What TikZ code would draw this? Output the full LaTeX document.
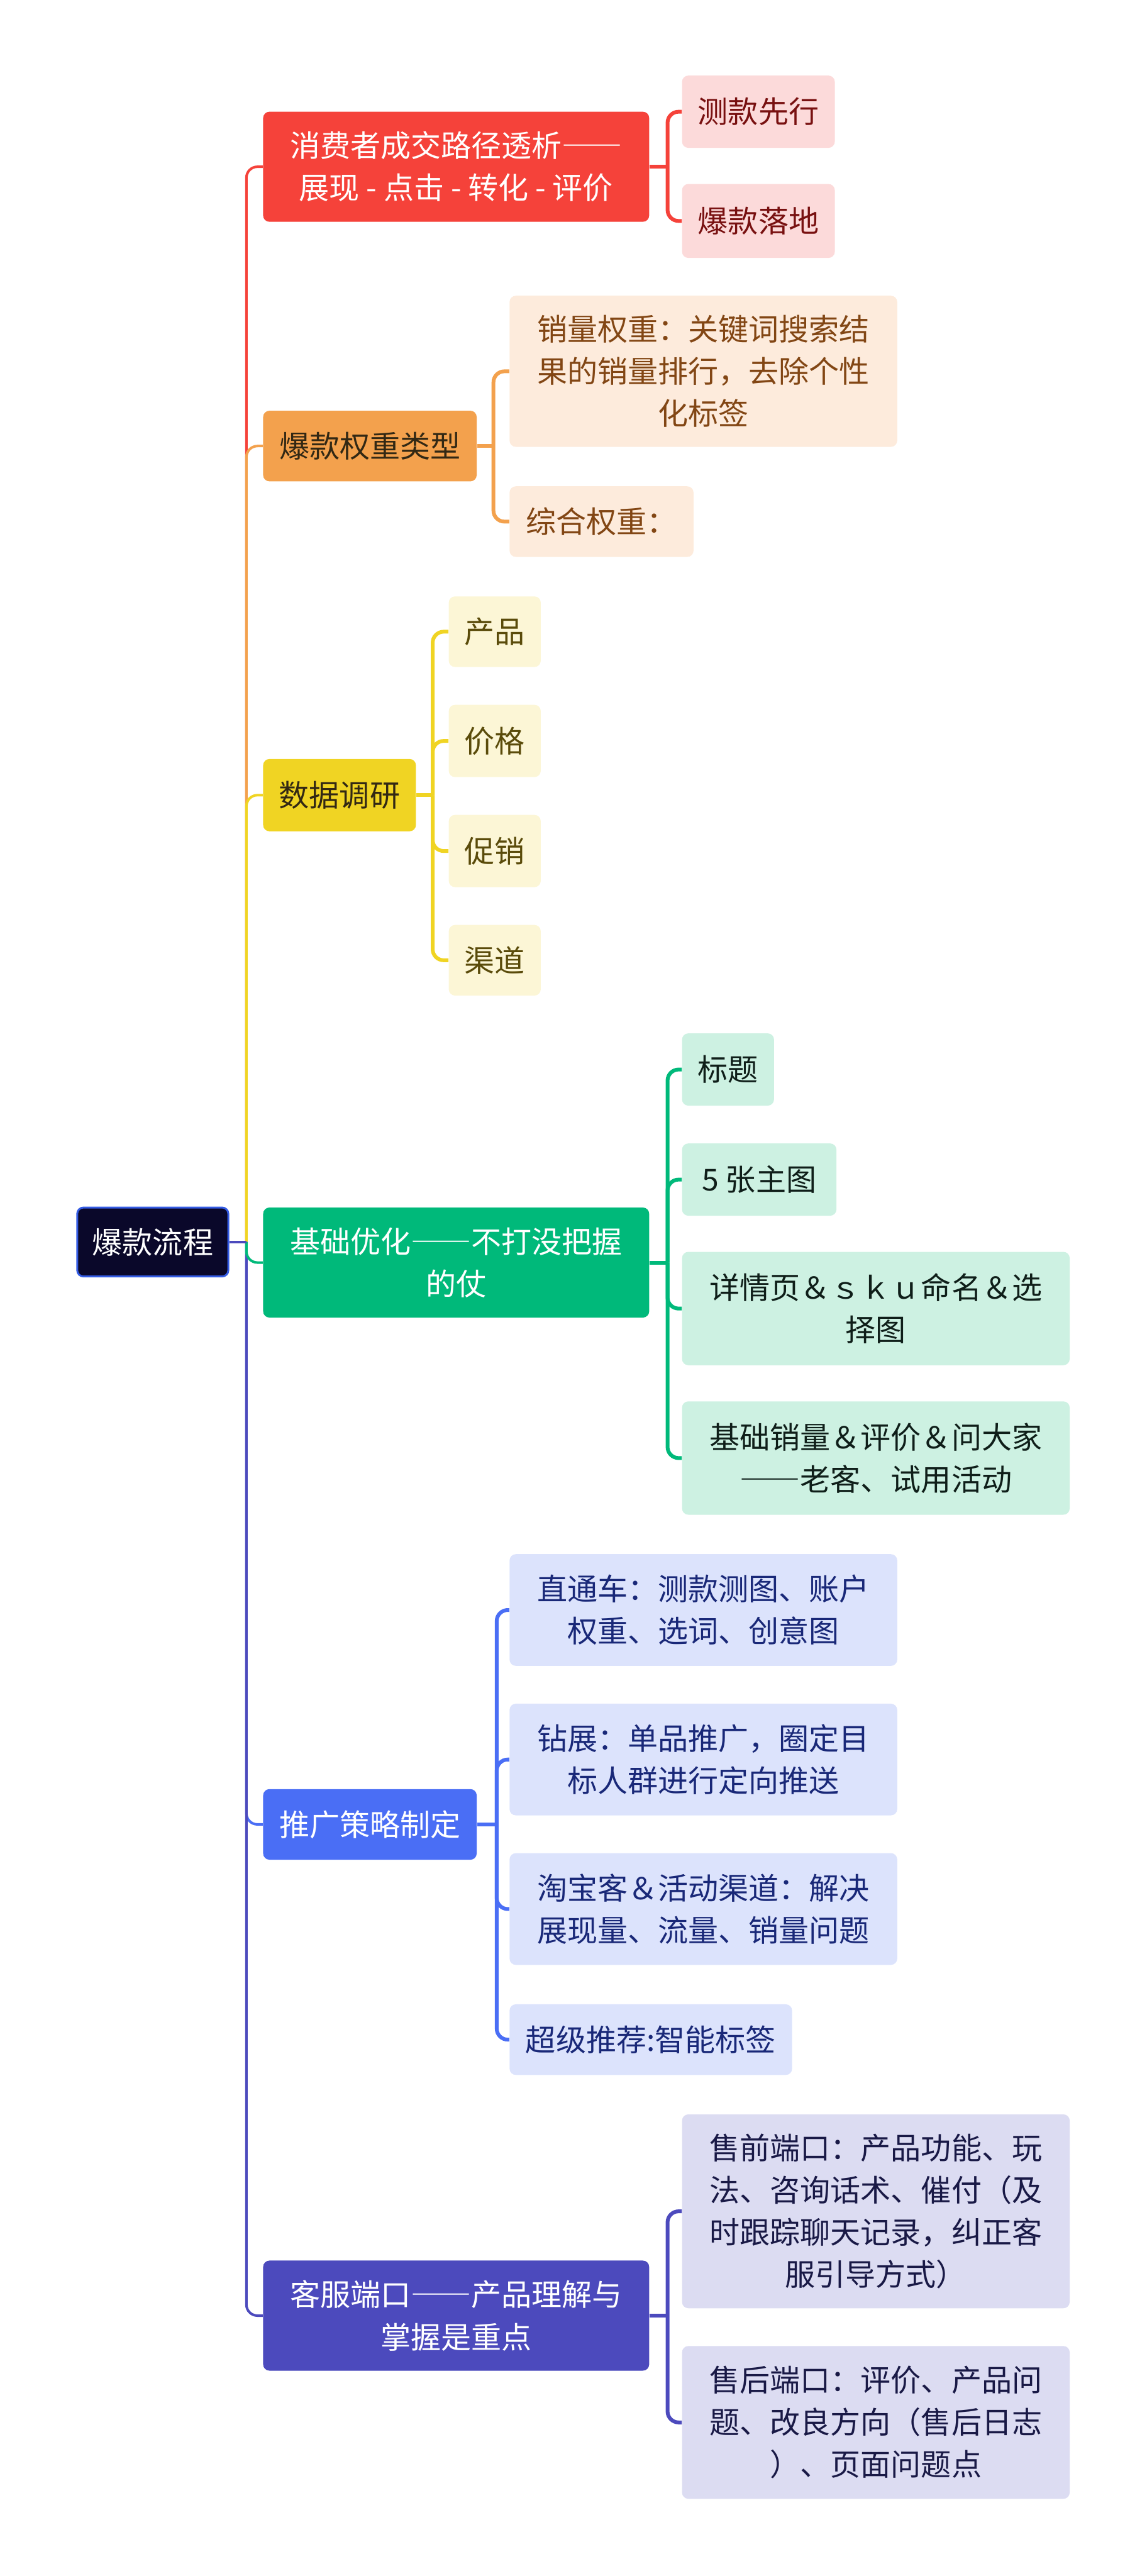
\documentclass[tikz,border=0pt]{standalone}
\usepackage{fontspec}
\setmainfont{Noto Sans CJK SC}
\newfontfamily\fullw[RawFeature=+fwid]{Noto Sans CJK SC}
\usepackage{xcolor}
\usetikzlibrary{positioning}
\definecolor{rootbg}{RGB}{10,8,42}
\definecolor{rootline}{RGB}{52,92,228}
\definecolor{cRed}{RGB}{245,66,58}
\definecolor{cRedL}{RGB}{252,218,218}
\definecolor{cRedT}{RGB}{120,16,16}
\definecolor{cOra}{RGB}{243,161,77}
\definecolor{cOraL}{RGB}{253,235,220}
\definecolor{cOraT}{RGB}{130,70,20}
\definecolor{cYel}{RGB}{240,212,35}
\definecolor{cYelL}{RGB}{252,246,214}
\definecolor{cYelT}{RGB}{90,75,10}
\definecolor{cGrn}{RGB}{0,185,122}
\definecolor{cGrnL}{RGB}{205,241,226}
\definecolor{cGrnT}{RGB}{15,30,25}
\definecolor{cBlu}{RGB}{74,110,245}
\definecolor{cBluL}{RGB}{220,227,252}
\definecolor{cBluT}{RGB}{25,40,120}
\definecolor{cInd}{RGB}{76,74,189}
\definecolor{cIndL}{RGB}{220,220,242}
\definecolor{cIndT}{RGB}{25,25,70}
\definecolor{darkT}{RGB}{50,40,20}

\begin{document}
\begin{tikzpicture}[x=0.3667mm,y=-0.3667mm,
  card/.style={rounded corners=4pt,inner sep=0pt,align=center,
    font=\fontsize{19.2pt}{26.8pt}\selectfont},
  sz/.style 2 args={minimum width=#1*0.3667mm,minimum height=#2*0.3667mm},
  topic/.style={card,fill=#1,anchor=west},
  leaf/.style 2 args={card,fill=#1,text=#2,anchor=west},
  trunk/.style={line width=1.6pt,draw=#1,rounded corners=7pt},
  link/.style={line width=2.4pt,draw=#1,rounded corners=7pt}]
\useasboundingbox (0,0) rectangle (698,1568);

% root and main topics
\node[card,fill=rootbg,draw=rootline,line width=1.2pt,text=white,sz={92}{42}] (root) at (93,756) {爆款流程};
\node[topic=cRed,text=white,sz={235}{67}] (path) at (160,101.5) {消费者成交路径透析{\fullw ——}\\展现 - 点击 - 转化 - 评价};
\node[topic=cOra,text=darkT,sz={130}{43}] (weight) at (160,271.5) {爆款权重类型};
\node[topic=cYel,text=darkT,sz={93}{44}] (data) at (160,484) {数据调研};
\node[topic=cGrn,text=white,sz={235}{67}] (basic) at (160,768.5) {基础优化{\fullw ——}不打没把握\\的仗};
\node[topic=cBlu,text=white,sz={130}{43}] (promo) at (160,1110.5) {推广策略制定};
\node[topic=cInd,text=white,sz={235}{67}] (serv) at (160,1409.5) {客服端口{\fullw ——}产品理解与\\掌握是重点};

% leaves
\node[leaf={cRedL}{cRedT},sz={93}{44}] (p1) at (415,68) {测款先行};
\node[leaf={cRedL}{cRedT},sz={93}{45}] (p2) at (415,134.5) {爆款落地};

\node[leaf={cOraL}{cOraT},sz={236}{92}] (w1) at (310,226) {销量权重：关键词搜索结\\果的销量排行，去除个性\\化标签};
\node[leaf={cOraL}{cOraT},sz={112}{43}] (w2) at (310,317.5) {综合权重：};

\node[leaf={cYelL}{cYelT},sz={56}{43}] (d1) at (273,384.5) {产品};
\node[leaf={cYelL}{cYelT},sz={56}{44}] (d2) at (273,451) {价格};
\node[leaf={cYelL}{cYelT},sz={56}{44}] (d3) at (273,518) {促销};
\node[leaf={cYelL}{cYelT},sz={56}{43}] (d4) at (273,584.5) {渠道};

\node[leaf={cGrnL}{cGrnT},sz={56}{44}] (b1) at (415,651) {标题};
\node[leaf={cGrnL}{cGrnT},sz={94}{44}] (b2) at (415,718) {5 张主图};
\node[leaf={cGrnL}{cGrnT},sz={236}{69}] (b3) at (415,796.5) {详情页＆ｓｋｕ命名＆选\\择图};
\node[leaf={cGrnL}{cGrnT},sz={236}{69}] (b4) at (415,887.5) {基础销量＆评价＆问大家\\{\fullw ——}老客、试用活动};

\node[leaf={cBluL}{cBluT},sz={236}{68}] (t1) at (310,980) {直通车：测款测图、账户\\权重、选词、创意图};
\node[leaf={cBluL}{cBluT},sz={236}{68}] (t2) at (310,1071) {钻展：单品推广，圈定目\\标人群进行定向推送};
\node[leaf={cBluL}{cBluT},sz={236}{68}] (t3) at (310,1162) {淘宝客＆活动渠道：解决\\展现量、流量、销量问题};
\node[leaf={cBluL}{cBluT},sz={172}{43}] (t4) at (310,1241.5) {超级推荐:智能标签};

\node[leaf={cIndL}{cIndT},sz={236}{118}] (c1) at (415,1346) {售前端口：产品功能、玩\\法、咨询话术、催付（及\\时跟踪聊天记录，纠正客\\服引导方式）};
\node[leaf={cIndL}{cIndT},sz={236}{93}] (c2) at (415,1474.5) {售后端口：评价、产品问\\题、改良方向（售后日志\\）、页面问题点};

% main branches
\coordinate (hub) at (150,756);
\draw[trunk=cRed] (hub) |- (path.west);
\draw[trunk=cOra] (hub) |- (weight.west);
\draw[trunk=cYel] (hub) |- (data.west);
\draw[trunk=cBlu] (hub) |- (promo.west);
\draw[trunk=cInd] (hub) |- (serv.west);
\draw[trunk=cGrn] (hub) |- (basic.west);
\draw[trunk=cInd] (root.east) -- (hub);

% sub branches
\draw[link=cRed] (path.east) -- ++(11,0) coordinate (pj);
\draw[link=cRed] (pj) |- (p1.west) (pj) |- (p2.west);
\draw[link=cOra] (weight.east) -- ++(10,0) coordinate (wj);
\draw[link=cOra] (wj) |- (w1.west) (wj) |- (w2.west);
\draw[link=cYel] (data.east) -- ++(10,0) coordinate (dj);
\foreach \n in {d1,d2,d3,d4} \draw[link=cYel] (dj) |- (\n.west);
\draw[link=cGrn] (basic.east) -- ++(11,0) coordinate (bj);
\foreach \n in {b1,b2,b3,b4} \draw[link=cGrn] (bj) |- (\n.west);
\draw[link=cBlu] (promo.east) -- ++(12,0) coordinate (tj);
\foreach \n in {t1,t2,t3,t4} \draw[link=cBlu] (tj) |- (\n.west);
\draw[link=cInd] (serv.east) -- ++(11,0) coordinate (cj);
\draw[link=cInd] (cj) |- (c1.west) (cj) |- (c2.west);
\end{tikzpicture}
\end{document}
